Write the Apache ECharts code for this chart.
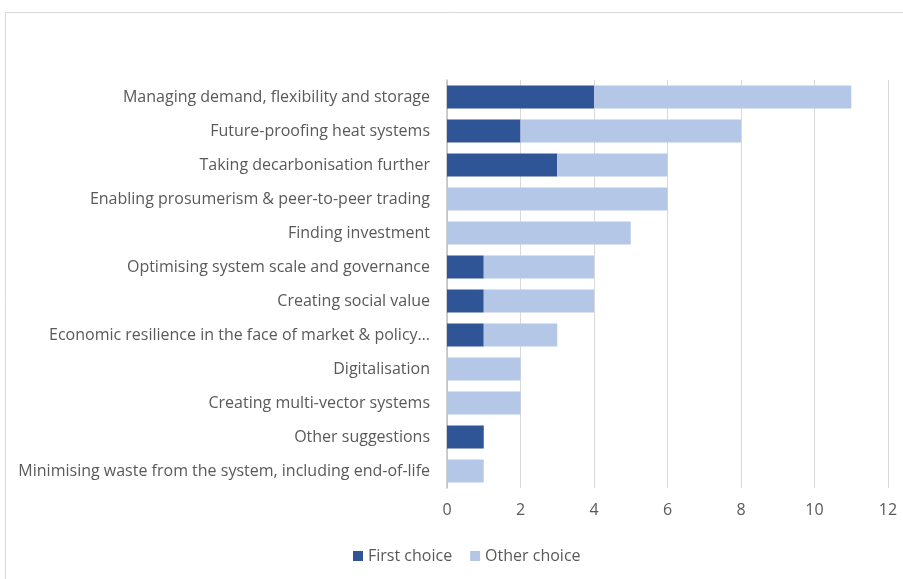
<!DOCTYPE html>
<html>
<head>
<meta charset="utf-8">
<script src="https://cdn.jsdelivr.net/npm/echarts@6/dist/echarts.min.js"></script>
<style>
  html, body { margin: 0; padding: 0; background: #fff; }
  #main { width: 903px; height: 579px; }
</style>
</head>
<body>
<div id="main"></div>
<script>
// categories, top to bottom
const categories = [
    'Managing demand, flexibility and storage',
    'Future-proofing heat systems',
    'Taking decarbonisation further',
    'Enabling prosumerism & peer-to-peer trading',
    'Finding investment',
    'Optimising system scale and governance',
    'Creating social value',
    'Economic resilience in the face of market & policy…',
    'Digitalisation',
    'Creating multi-vector systems',
    'Other suggestions',
    'Minimising waste from the system, including end-of-life'
]
const firstChoice = [4, 2, 3, 0, 0, 1, 1, 1, 0, 0, 1, 0]
const otherChoice = [7, 6, 3, 6, 5, 3, 3, 2, 2, 2, 0, 1]
const xTicks = [0, 2, 4, 6, 8, 10, 12]

const font = '"Open Sans", "Noto Sans", sans-serif'
const textColor = '#595959'

let myChart = echarts.init(document.getElementById('main'))

myChart.setOption({
    animation: false,
    graphic: [
        {
            type: 'rect',
            shape: { x: 5.5, y: 12.5, width: 1000, height: 1000 },
            style: { fill: 'none', stroke: '#d9d9d9', lineWidth: 1 },
            silent: true
        }
    ],
    legend: {
        data: ['First choice', 'Other choice'],
        bottom: 10,
        left: 348,
        itemWidth: 10,
        itemHeight: 10,
        itemGap: 18,
        icon: 'rect',
        textStyle: { color: textColor, fontSize: 16, fontFamily: font }
    },
    grid: {
        left: 447,
        right: 15,
        top: 80,
        bottom: 91
    },
    xAxis: {
        type: 'value',
        min: xTicks[0],
        max: xTicks[xTicks.length - 1],
        interval: 2,
        axisLine: { show: false },
        axisTick: { show: false },
        splitLine: { lineStyle: { color: '#d9d9d9', width: 1 } },
        axisLabel: { color: textColor, fontSize: 16, fontFamily: font, margin: 14 }
    },
    yAxis: {
        type: 'category',
        inverse: true,
        data: categories,
        axisLine: { show: true, lineStyle: { color: '#bfbfbf', width: 1.5 } },
        axisTick: { show: false },
        axisLabel: { color: textColor, fontSize: 16, fontFamily: font, margin: 17 }
    },
    series: [
        {
            name: 'First choice',
            type: 'bar',
            stack: 'total',
            barWidth: '67%',
            itemStyle: { color: '#2F5597' },
            data: firstChoice
        },
        {
            name: 'Other choice',
            type: 'bar',
            stack: 'total',
            barWidth: '67%',
            itemStyle: { color: '#B4C7E7' },
            data: otherChoice
        }
    ]
})
</script>
</body>
</html>
